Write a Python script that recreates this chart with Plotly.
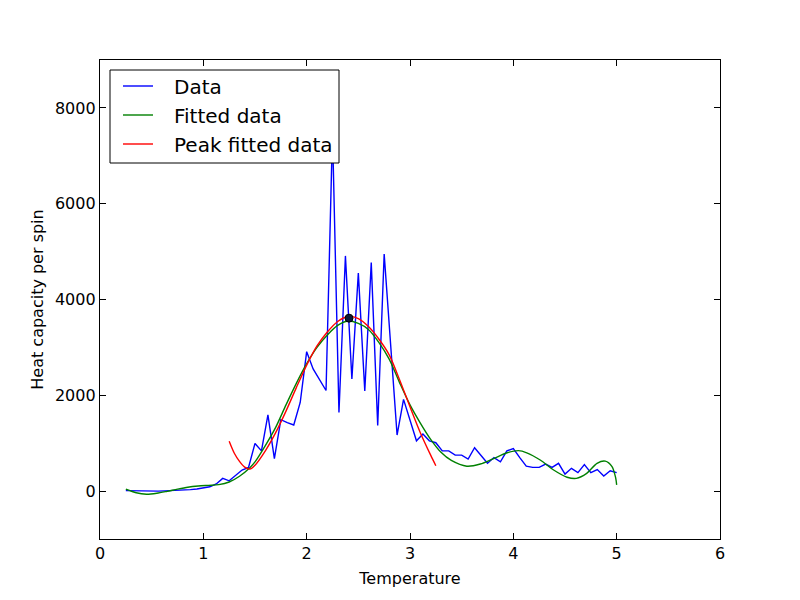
import numpy as np
import plotly.graph_objects as go

# ---- data ----
temp = [0.25 + 0.0625 * k for k in range(77)]
heat_capacity = [
    10, 5, 0, 0, 0, 0, 5, 10, 10, 20,
    30, 45, 60, 90, 150, 265, 215, 320, 440, 495,
    995, 840, 1590, 680, 1490, 1430, 1380, 1850, 2910, 2550,
    2330, 2100, 7500, 1640, 4910, 2340, 4550, 2090, 4770, 1370,
    4950, 3060, 1170, 1915, 1480, 1050, 1190, 1050, 1010, 840,
    840, 750, 750, 670, 905, 730, 580, 700, 610, 840,
    890, 700, 520, 495, 495, 565, 495, 580, 355, 475,
    385, 555, 385, 450, 315, 425, 385,
]

fit_t = [0.25, 0.35, 0.45, 0.55, 0.65, 0.75, 0.85, 0.95, 1.05, 1.15,
         1.25, 1.35, 1.45, 1.5, 1.6, 1.7, 1.8, 1.9, 2.0, 2.1,
         2.2, 2.3, 2.4, 2.5, 2.6, 2.7, 2.8, 2.9, 3.0, 3.1,
         3.2, 3.3, 3.4, 3.55, 3.68, 3.81, 3.94, 4.05, 4.13, 4.26,
         4.39, 4.52, 4.61, 4.71, 4.81, 4.89, 4.955, 4.99, 5.0]
fit_c = [40, -35, -65, -45, -5, 40, 80, 105, 120, 135,
         190, 310, 490, 610, 950, 1330, 1800, 2250, 2660, 3000,
         3260, 3460, 3550, 3500, 3370, 3100, 2750, 2260, 1800, 1420,
         1080, 810, 640, 520, 565, 680, 800, 845, 800, 650,
         440, 290, 265, 370, 580, 625, 510, 280, 130]

peak_t = [1.25, 1.3, 1.35, 1.4, 1.45, 1.5, 1.6, 1.7, 1.8, 1.9,
          2.0, 2.1, 2.2, 2.3, 2.4, 2.5, 2.6, 2.7, 2.8, 2.9,
          3.0, 3.1, 3.2, 3.25]
peak_c = [1040, 790, 620, 500, 460, 540, 840, 1220, 1670, 2160,
          2630, 3030, 3320, 3540, 3645, 3600, 3430, 3170, 2840, 2320,
          1760, 1220, 750, 530]

peak_point_t = [2.41]
peak_point_c = [3610]

x_ticks = [0, 1, 2, 3, 4, 5, 6]
y_ticks = [0, 2000, 4000, 6000, 8000]

legend_labels = ["Data", "Fitted data", "Peak fitted data"]
legend_colors = ["#0000ff", "#008000", "#ff0000"]

FONT = "DejaVu Sans"

fig = go.Figure()
fig.add_trace(go.Scatter(x=temp, y=heat_capacity, mode="lines", name=legend_labels[0],
                         line=dict(color=legend_colors[0], width=1.4)))
fig.add_trace(go.Scatter(x=fit_t, y=fit_c, mode="lines", name=legend_labels[1],
                         line=dict(color=legend_colors[1], width=1.4, shape="spline", smoothing=0.8)))
fig.add_trace(go.Scatter(x=peak_t, y=peak_c, mode="lines", name=legend_labels[2],
                         line=dict(color=legend_colors[2], width=1.4, shape="spline", smoothing=0.8)))
fig.add_trace(go.Scatter(x=peak_point_t, y=peak_point_c, mode="markers", showlegend=False,
                         marker=dict(color="#0b1a3a", size=8, line=dict(color="#000000", width=1))))

# ---- legend box drawn in paper coordinates (matplotlib-classic look) ----
W, H = 620.0, 479.0  # plot area size in px
def px_x(p):
    return p / W
def px_y(p):
    return 1 - p / H

shapes = [dict(type="rect", xref="paper", yref="paper", layer="above",
               x0=px_x(10), x1=px_x(239), y0=px_y(103), y1=px_y(10),
               fillcolor="white", line=dict(color="black", width=1))]
annotations = []
row_y = [26, 55, 84]
for lbl, col, ry in zip(legend_labels, legend_colors, row_y):
    shapes.append(dict(type="line", xref="paper", yref="paper", layer="above",
                       x0=px_x(23), x1=px_x(53), y0=px_y(ry), y1=px_y(ry),
                       line=dict(color=col, width=1.4)))
    annotations.append(dict(xref="paper", yref="paper", x=px_x(72), y=px_y(ry + 1),
                            xanchor="left", yanchor="middle", showarrow=False,
                            text=lbl, font=dict(family=FONT, size=20, color="black")))

axis_common = dict(
    showgrid=False, zeroline=False, showline=True, linecolor="black", linewidth=1.3,
    mirror="allticks", ticks="inside", ticklen=6, tickwidth=1, tickcolor="black",
    tickfont=dict(family=FONT, size=16, color="black"),
)

fig.update_layout(
    width=800, height=600,
    margin=dict(l=100, r=80, t=60, b=61),
    paper_bgcolor="white", plot_bgcolor="white",
    font=dict(family=FONT, color="black"),
    showlegend=False,
    shapes=shapes, annotations=annotations,
    xaxis=dict(range=[0, 6], tickvals=x_ticks, ticktext=[str(v) for v in x_ticks],
               title=dict(text="Temperature", font=dict(family=FONT, size=16), standoff=10),
               **axis_common),
    yaxis=dict(range=[-1000, 9000], tickvals=y_ticks, ticktext=[str(v) for v in y_ticks],
               title=dict(text="Heat capacity per spin", font=dict(family=FONT, size=16), standoff=7),
               **axis_common),
)

fig.write_html("out.html")
